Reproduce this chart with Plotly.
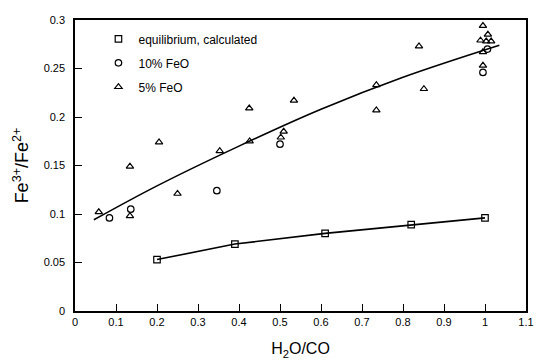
import plotly.graph_objects as go

# Equilibrium, calculated
eq_x = [0.20, 0.39, 0.61, 0.82, 1.00]
eq_y = [0.053, 0.069, 0.080, 0.089, 0.096]

# 10% FeO
f10_x = [0.084, 0.136, 0.346, 0.500, 1.006, 0.995]
f10_y = [0.096, 0.105, 0.124, 0.172, 0.270, 0.246]

# 5% FeO
f5_x = [0.058, 0.134, 0.134, 0.205, 0.250, 0.353, 0.426, 0.425, 0.502, 0.509,
        0.534, 0.735, 0.735, 0.851, 0.839, 0.995, 1.007, 0.989, 1.003, 1.015,
        0.995, 0.995]
f5_y = [0.102, 0.149, 0.098, 0.174, 0.121, 0.165, 0.175, 0.209, 0.179, 0.185,
        0.217, 0.233, 0.207, 0.229, 0.273, 0.294, 0.285, 0.279, 0.278, 0.278,
        0.267, 0.253]

fit_x = [0.046, 0.2, 0.4, 0.6, 0.8, 1.035]
fit_y = [0.094, 0.129, 0.170, 0.208, 0.241, 0.274]

font_family = "Liberation Sans, Arial, sans-serif"
mk = dict(color="black", size=6.5, line=dict(color="black", width=1.2))

fig = go.Figure()
fig.add_trace(go.Scatter(x=fit_x, y=fit_y, mode="lines", showlegend=False,
                         line=dict(color="black", width=1.6, shape="spline")))
fig.add_trace(go.Scatter(x=eq_x, y=eq_y, mode="lines", showlegend=False,
                         line=dict(color="black", width=1.6)))
fig.add_trace(go.Scatter(x=eq_x, y=eq_y, mode="markers",
                         name="equilibrium, calculated", legendgroup="a",
                         marker=dict(symbol="square-open", **mk)))
fig.add_trace(go.Scatter(x=f10_x, y=f10_y, mode="markers", name="10% FeO",
                         legendgroup="b",
                         marker=dict(symbol="circle-open", **mk)))
fig.add_trace(go.Scatter(x=f5_x, y=f5_y, mode="markers", name="5% FeO",
                         legendgroup="c",
                         marker=dict(symbol="triangle-up-open", **mk)))

axis_common = dict(showgrid=False, zeroline=False, showline=True,
                   linecolor="black", linewidth=1.5, mirror=True,
                   ticks="inside", tickcolor="black", tickwidth=1.3,
                   tickfont=dict(size=11, color="black", family=font_family))

fig.update_layout(
    width=542, height=363,
    margin=dict(l=75, r=8, t=20, b=50),
    paper_bgcolor="white", plot_bgcolor="white",
    font=dict(family=font_family, color="black"),
    xaxis=dict(range=[0, 1.1], dtick=0.1, tick0=0, ticklen=7,
               title=dict(text="H<sub>2</sub>O/CO", font=dict(size=16), standoff=16),
               **axis_common),
    yaxis=dict(range=[0, 0.3], dtick=0.05, tick0=0, ticklen=7,
               ticklabelstandoff=6,
               title=dict(text="Fe<sup>3+</sup>/Fe<sup>2+</sup>", font=dict(size=18), standoff=10),
               **axis_common),
    legend=dict(x=0.052, y=0.985, xanchor="left", yanchor="top",
                bgcolor="rgba(0,0,0,0)", font=dict(size=12),
                traceorder="grouped", tracegroupgap=5, itemwidth=30),
    showlegend=True,
)

fig.write_html("out.html")
